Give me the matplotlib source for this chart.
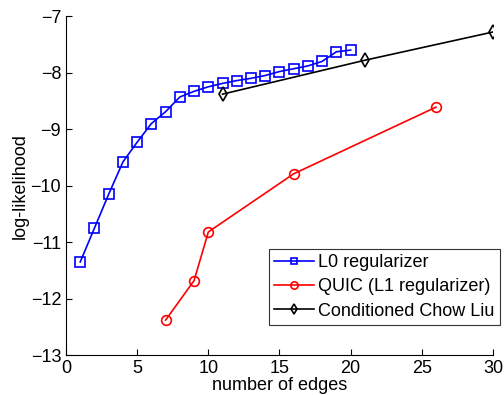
import matplotlib
matplotlib.use('Agg')
import matplotlib.pyplot as plt

plt.rcParams['font.family'] = ['Liberation Sans', 'DejaVu Sans']

# L0 regularizer
edges_l0 = list(range(1, 21))
ll_l0 = [-11.35, -10.75, -10.15, -9.58, -9.23, -8.9, -8.69, -8.43, -8.33, -8.25,
         -8.19, -8.14, -8.1, -8.05, -7.98, -7.93, -7.88, -7.8, -7.63, -7.6]

# QUIC (L1 regularizer)
edges_quic = [7, 9, 10, 16, 26]
ll_quic = [-12.38, -11.68, -10.82, -9.79, -8.61]

# Conditioned Chow Liu
edges_cl = [11, 21, 30]
ll_cl = [-8.38, -7.78, -7.28]

fig = plt.figure(figsize=(5.04, 3.95), dpi=100)
ax = fig.add_axes([0.131, 0.101, 0.847, 0.858])

ax.plot(edges_l0, ll_l0, marker='s', color='blue', mfc='none', ms=6.5, lw=1.2, mew=1.2,
        label='L0 regularizer')
ax.plot(edges_quic, ll_quic, marker='o', color='red', mfc='none', ms=7, lw=1.2, mew=1.2,
        label='QUIC (L1 regularizer)')
ax.plot(edges_cl, ll_cl, marker='d', color='black', mfc='none', ms=7, lw=1.2, mew=1.2,
        label='Conditioned Chow Liu')

ax.set_xlim(0, 30)
ax.set_ylim(-13, -7)
ax.set_xticks(range(0, 31, 5))
ax.set_yticks(range(-13, -6))
ax.set_xlabel('number of edges', fontsize=13, labelpad=0)
ax.set_ylabel('log-likelihood', fontsize=13, labelpad=1)
ax.tick_params(direction='in', labelsize=13, length=4)
ax.spines['top'].set_visible(False)
ax.spines['right'].set_visible(False)

leg = ax.legend(loc='lower right', bbox_to_anchor=(500 / 504, 1 - 325 / 395),
                bbox_transform=fig.transFigure, borderaxespad=0,
                fontsize=13, fancybox=False, framealpha=1, markerscale=0.75,
                edgecolor='#333333', handlelength=2.2, handletextpad=0.25,
                borderpad=0.3, labelspacing=0.4)
leg.get_frame().set_linewidth(0.8)

fig.savefig('out.png', dpi=100)
